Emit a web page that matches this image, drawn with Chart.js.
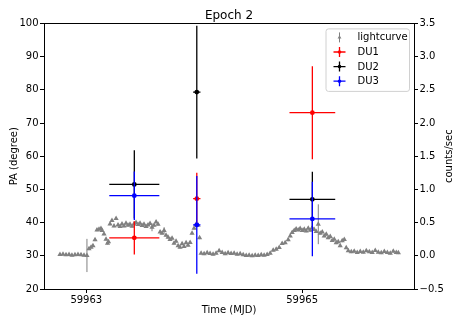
<!DOCTYPE html>
<html>
<head>
<meta charset="utf-8">
<script src="https://cdn.jsdelivr.net/npm/chart.js@4.4.0/dist/chart.umd.min.js"></script>
<style>
  html, body { margin: 0; padding: 0; background: #fff; }
  #wrap { width: 463px; height: 327px; }
</style>
</head>
<body>
<div id="wrap"><canvas id="myChart" width="463" height="327"></canvas></div>
<script>
// lightcurve (counts/sec, right axis)
const lcTime = [
  59962.756, 59962.784, 59962.812, 59962.840, 59962.867, 59962.895, 59962.923, 59962.951, 59962.979, 59963.006,
  59963.025, 59963.044, 59963.062, 59963.081, 59963.099, 59963.118, 59963.136, 59963.146, 59963.164, 59963.183, 59963.197, 59963.206,
  59963.220, 59963.238, 59963.257, 59963.276, 59963.294, 59963.313, 59963.331, 59963.350, 59963.368, 59963.387, 59963.405, 59963.424, 59963.442,
  59963.461, 59963.480, 59963.498, 59963.517, 59963.535, 59963.554, 59963.572, 59963.591, 59963.609, 59963.628, 59963.647, 59963.665,
  59963.684, 59963.702, 59963.721, 59963.739, 59963.758, 59963.776, 59963.795, 59963.813, 59963.832, 59963.851, 59963.869,
  59963.888, 59963.906, 59963.925, 59963.943, 59963.962, 59963.980, 59963.999, 59964.018, 59964.036, 59964.050,
  59964.064, 59964.092, 59964.120, 59964.147, 59964.175, 59964.203, 59964.231, 59964.259, 59964.287, 59964.314, 59964.342, 59964.370,
  59964.398, 59964.426, 59964.454, 59964.482, 59964.509, 59964.537, 59964.565, 59964.593, 59964.621, 59964.648, 59964.676, 59964.704,
  59964.732, 59964.760, 59964.788, 59964.815, 59964.843, 59964.871, 59964.890, 59964.908, 59964.927, 59964.945, 59964.964, 59964.982,
  59965.001, 59965.020, 59965.038, 59965.057, 59965.075, 59965.094, 59965.112, 59965.131, 59965.150, 59965.168, 59965.187, 59965.205,
  59965.224, 59965.242, 59965.261, 59965.279, 59965.298, 59965.316, 59965.335, 59965.353, 59965.372, 59965.391, 59965.409, 59965.428,
  59965.456, 59965.483, 59965.511, 59965.539, 59965.567, 59965.595, 59965.623, 59965.650, 59965.678, 59965.706,
  59965.734, 59965.762, 59965.790, 59965.817, 59965.845, 59965.873, 59965.892
]
const lcRate = [
  0.020, 0.025, 0.015, 0.020, 0.010, 0.015, 0.020, 0.015, 0.010, 0.005,
  0.105, 0.130, 0.150, 0.240, 0.390, 0.400, 0.410, 0.380, 0.330, 0.250, 0.190, 0.210,
  0.480, 0.530, 0.450, 0.560, 0.465, 0.440, 0.480, 0.450, 0.490, 0.460, 0.475, 0.445, 0.480,
  0.500, 0.470, 0.490, 0.455, 0.475, 0.440, 0.465, 0.485, 0.430, 0.460, 0.510, 0.475,
  0.360, 0.340, 0.380, 0.310, 0.280, 0.245, 0.265, 0.190, 0.220, 0.150, 0.130,
  0.180, 0.140, 0.195, 0.160, 0.200, 0.340, 0.415, 0.475, 0.460, 0.270,
  0.040, 0.030, 0.045, 0.035, 0.025, 0.040, 0.075, 0.050, 0.030, 0.045, 0.035, 0.040,
  0.025, 0.030, 0.015, 0.005, 0.010, 0.000, 0.010, 0.005, 0.015, 0.010, 0.020, 0.040,
  0.085, 0.100, 0.125, 0.185, 0.195, 0.240, 0.300, 0.350, 0.380, 0.405, 0.390, 0.410,
  0.380, 0.400, 0.375, 0.415, 0.385, 0.420, 0.395, 0.365, 0.475, 0.340, 0.360, 0.300,
  0.325, 0.270, 0.290, 0.230, 0.250, 0.195, 0.210, 0.150, 0.225, 0.245, 0.120, 0.075,
  0.060, 0.070, 0.050, 0.065, 0.055, 0.075, 0.060, 0.050, 0.080, 0.055,
  0.045, 0.065, 0.050, 0.040, 0.070, 0.050, 0.045
]
const lcErr = [
  0.02, 0.02, 0.02, 0.02, 0.02, 0.02, 0.02, 0.02, 0.02, 0.25,
  0.02, 0.02, 0.02, 0.02, 0.02, 0.02, 0.02, 0.02, 0.02, 0.02, 0.02, 0.02,
  0.02, 0.02, 0.02, 0.02, 0.02, 0.02, 0.02, 0.02, 0.02, 0.02, 0.02, 0.02, 0.02,
  0.02, 0.02, 0.02, 0.02, 0.02, 0.02, 0.02, 0.02, 0.06, 0.02, 0.02, 0.02,
  0.02, 0.02, 0.05, 0.02, 0.02, 0.02, 0.02, 0.02, 0.02, 0.02, 0.02,
  0.02, 0.02, 0.02, 0.02, 0.02, 0.02, 0.02, 0.02, 0.02, 0.02,
  0.02, 0.02, 0.02, 0.02, 0.02, 0.02, 0.02, 0.02, 0.02, 0.02, 0.02, 0.02,
  0.02, 0.02, 0.02, 0.02, 0.02, 0.02, 0.02, 0.02, 0.02, 0.02, 0.02, 0.02,
  0.02, 0.02, 0.02, 0.02, 0.02, 0.02, 0.02, 0.02, 0.02, 0.02, 0.02, 0.02,
  0.02, 0.02, 0.02, 0.02, 0.02, 0.02, 0.02, 0.02, 0.30, 0.02, 0.02, 0.02,
  0.02, 0.02, 0.02, 0.02, 0.02, 0.02, 0.02, 0.02, 0.02, 0.02, 0.02, 0.02,
  0.02, 0.02, 0.02, 0.02, 0.02, 0.02, 0.02, 0.02, 0.02, 0.02,
  0.02, 0.02, 0.02, 0.02, 0.02, 0.02, 0.02
]

// polarisation angle per detector unit (degree, left axis)
const duTime = [59963.445, 59964.024, 59965.095]
const duTimeErr = [0.232, 0.034, 0.212]
const du1PA = [35.4, 47.2, 73.1]
const du1Err = [5.0, 7.8, 14.0]
const du2PA = [51.5, 79.3, 47.0]
const du2Err = [10.3, 20.0, 8.3]
const du3PA = [48.1, 39.3, 41.1]
const du3Err = [7.3, 14.7, 11.2]

const xTicks = [59963, 59965]
const paTicks = [20, 30, 40, 50, 60, 70, 80, 90, 100]
const rateTicks = [-0.5, 0.0, 0.5, 1.0, 1.5, 2.0, 2.5, 3.0, 3.5]

Chart.defaults.font.family = "'DejaVu Sans', sans-serif"
Chart.defaults.font.size = 10
Chart.defaults.color = '#000'

const points = (xs, ys) => xs.map((x, i) => ({ x: x, y: ys[i] }))

function drawBar(ctx, xs, ys, x, y, ex, ey) {
  const px = xs.getPixelForValue(x)
  const py = ys.getPixelForValue(y)
  ctx.beginPath()
  ctx.moveTo(px, ys.getPixelForValue(y - ey))
  ctx.lineTo(px, ys.getPixelForValue(y + ey))
  if (ex) {
    ctx.moveTo(xs.getPixelForValue(x - ex), py)
    ctx.lineTo(xs.getPixelForValue(x + ex), py)
  }
  ctx.stroke()
}

const errorBars = {
  id: 'errorBars',
  beforeDatasetDraw(chart, args) {
    const ds = chart.data.datasets[args.index]
    if (!ds.errY) return
    const ctx = chart.ctx
    const a = chart.chartArea
    ctx.save()
    ctx.beginPath()
    ctx.rect(a.left, a.top, a.right - a.left, a.bottom - a.top)
    ctx.clip()
    ctx.strokeStyle = ds.borderColor
    ctx.lineWidth = ds.errWidth
    ds.data.forEach((p, i) => {
      drawBar(ctx, chart.scales.x, chart.scales[ds.yAxisID], p.x, p.y, ds.errX ? ds.errX[i] : 0, ds.errY[i])
    })
    ctx.restore()
  }
}

const frame = {
  id: 'frame',
  afterDraw(chart) {
    const ctx = chart.ctx
    const a = chart.chartArea
    ctx.save()
    ctx.strokeStyle = '#000'
    ctx.lineWidth = 1
    ctx.strokeRect(Math.round(a.left) + 0.5, Math.round(a.top) + 0.5, Math.round(a.right - a.left), Math.round(a.bottom - a.top))

    // right axis label, read bottom to top as in the original
    ctx.translate(449, (a.top + a.bottom) / 2)
    ctx.rotate(-Math.PI / 2)
    ctx.font = "10px 'DejaVu Sans'"
    ctx.fillStyle = '#000'
    ctx.textAlign = 'center'
    ctx.textBaseline = 'middle'
    ctx.fillText(chart.options.scales.y2.title.text, 0, 0)
    ctx.restore()
  }
}

const boxLegend = {
  id: 'boxLegend',
  afterDraw(chart) {
    const ctx = chart.ctx
    const a = chart.chartArea
    const w = 83.5, h = 62.5
    const left = a.right - 5 - w, top = a.top + 5
    ctx.save()
    ctx.beginPath()
    ctx.roundRect(left + 0.5, top + 0.5, w, h, 2.5)
    ctx.fillStyle = 'rgba(255,255,255,0.8)'
    ctx.fill()
    ctx.strokeStyle = '#d0d0d0'
    ctx.lineWidth = 1
    ctx.stroke()
    ctx.font = "10px 'DejaVu Sans'"
    ctx.textBaseline = 'middle'
    ctx.fillStyle = '#000'
    chart.data.datasets.forEach((ds, i) => {
      const cy = top + 9 + i * 14.6
      const cx = left + 14
      ctx.strokeStyle = ds.borderColor
      ctx.fillStyle = ds.backgroundColor
      ctx.lineWidth = ds.errWidth
      ctx.beginPath()
      ctx.moveTo(cx, cy - 5)
      ctx.lineTo(cx, cy + 5)
      if (ds.errX) {
        ctx.moveTo(cx - 6, cy)
        ctx.lineTo(cx + 6, cy)
      }
      ctx.stroke()
      Chart.helpers.drawPoint(ctx, { pointStyle: ds.pointStyle, radius: ds.pointRadius * 0.75, borderWidth: 0 }, cx, cy)
      ctx.fillStyle = '#000'
      ctx.fillText(ds.label, left + 32, cy + 0.5)
    })
    ctx.restore()
  }
}

new Chart(document.getElementById('myChart'), {
  type: 'scatter',
  data: {
    datasets: [
      {
        label: 'lightcurve',
        data: points(lcTime, lcRate),
        errY: lcErr,
        errWidth: 1,
        yAxisID: 'y2',
        pointStyle: 'triangle',
        pointRadius: 3,
        borderWidth: 0,
        backgroundColor: 'gray',
        borderColor: 'gray',
        order: 3
      },
      {
        label: 'DU1',
        data: points(duTime, du1PA),
        errX: duTimeErr,
        errY: du1Err,
        errWidth: 1.3,
        yAxisID: 'y',
        pointStyle: 'circle',
        pointRadius: 2.4,
        borderWidth: 0,
        backgroundColor: 'red',
        borderColor: 'red',
        order: 2
      },
      {
        label: 'DU2',
        data: points(duTime, du2PA),
        errX: duTimeErr,
        errY: du2Err,
        errWidth: 1.3,
        yAxisID: 'y',
        pointStyle: 'circle',
        pointRadius: 2.4,
        borderWidth: 0,
        backgroundColor: 'black',
        borderColor: 'black',
        order: 1
      },
      {
        label: 'DU3',
        data: points(duTime, du3PA),
        errX: duTimeErr,
        errY: du3Err,
        errWidth: 1.3,
        yAxisID: 'y',
        pointStyle: 'circle',
        pointRadius: 2.4,
        borderWidth: 0,
        backgroundColor: 'blue',
        borderColor: 'blue',
        order: 0
      }
    ]
  },
  options: {
    responsive: false,
    animation: false,
    layout: { padding: 0 },
    plugins: {
      legend: { display: false },
      tooltip: { enabled: false },
      title: {
        display: true,
        text: 'Epoch 2',
        fullSize: false,
        font: { size: 12, weight: 'normal' },
        color: '#000',
        padding: { top: 9, bottom: 0 }
      }
    },
    scales: {
      x: {
        type: 'linear',
        min: 59962.608,
        max: 59966.037,
        afterBuildTicks: s => { s.ticks = xTicks.map(v => ({ value: v })) },
        afterFit: s => { s.height = 38 },
        grid: { drawOnChartArea: false, drawTicks: true, tickLength: 4, color: '#000' },
        border: { display: false },
        ticks: { padding: 1, callback: v => String(v), maxRotation: 0 },
        title: { display: true, text: 'Time (MJD)', padding: { top: 0, bottom: 11 } }
      },
      y: {
        position: 'left',
        min: 20,
        max: 100,
        afterBuildTicks: s => { s.ticks = paTicks.map(v => ({ value: v })) },
        afterFit: s => { s.width = 44 },
        grid: { drawOnChartArea: false, drawTicks: true, tickLength: 4, color: '#000' },
        border: { display: false },
        ticks: { padding: 1.5, callback: v => String(v) },
        title: { display: true, text: 'PA (degree)', padding: { top: 8, bottom: 0 } }
      },
      y2: {
        position: 'right',
        min: -0.5,
        max: 3.5,
        afterBuildTicks: s => { s.ticks = rateTicks.map(v => ({ value: v })) },
        afterFit: s => { s.width = 49 },
        grid: { drawOnChartArea: false, drawTicks: true, tickLength: 4, color: '#000' },
        border: { display: false },
        ticks: { padding: 1.5, callback: v => (v < 0 ? '\u2212' : '') + Math.abs(v).toFixed(1) },
        title: { display: false, text: 'counts/sec' }
      }
    }
  },
  plugins: [errorBars, frame, boxLegend]
})
</script>
</body>
</html>
